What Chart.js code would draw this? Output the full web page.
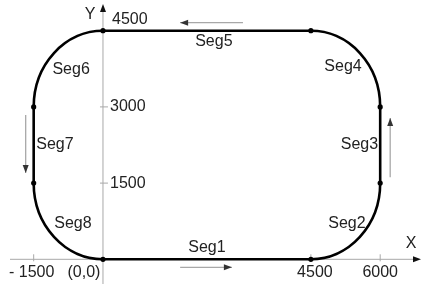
<!DOCTYPE html>
<html>
<head>
<meta charset="UTF-8">
<title>Path segments</title>
<script src="https://cdn.jsdelivr.net/npm/chart.js"></script>
<style>
  body { margin: 0; background: #fff; }
  #wrap { width: 422px; height: 284px; }
</style>
</head>
<body>
<div id="wrap"><canvas id="c"></canvas></div>
<script>
// junction points of the path, Seg1 starts at the origin
const nodeX = [0, 4500, 6000, 6000, 4500, 0, -1500, -1500];
const nodeY = [0, 0, 1500, 3000, 4500, 4500, 3000, 1500];
// straight segments (Seg1, Seg3, Seg5, Seg7) as index pairs into the nodes
const lineSegs = [[0, 1], [2, 3], [4, 5], [6, 7]];
// arc segments (Seg2, Seg4, Seg6, Seg8): centre, radius, quadrant in degrees
const arcCX = [4500, 4500, 0, 0];
const arcCY = [1500, 3000, 3000, 1500];
const arcR = 1500;
const arcFrom = [0, -90, 180, 90];
const arcTo = [90, 0, 270, 180];
// segment names and where they sit
const segNames = ['Seg1', 'Seg2', 'Seg3', 'Seg4', 'Seg5', 'Seg6', 'Seg7', 'Seg8'];
const segLabelX = [2250, 5280, 5550, 5195, 2400, -690, -1040, -650];
const segLabelY = [240, 695, 2250, 3785, 4277, 3726, 2250, 695];
// travel direction arrows
const dirFromX = [1670, 6000, 3030, -1500];
const dirFromY = [0, 1615, 4500, 2840];
const dirToX = [2790, 6000, 1670, -1500];
const dirToY = [0, 2780, 4500, 1700];
// axis ticks
const xTicks = [-1500, 0, 4500, 6000];
const xTickLabels = ['- 1500', '(0,0)', '4500', '6000'];
const yTicks = [1500, 3000, 4500];
const yTickLabels = ['1500', '3000', '4500'];

const FONT = '16px "Liberation Sans", Arial, sans-serif';

function head(ctx, x1, y1, x2, y2, len, half, color) {
  const a = Math.atan2(y2 - y1, x2 - x1);
  ctx.fillStyle = color;
  ctx.beginPath();
  ctx.moveTo(x2, y2);
  ctx.lineTo(x2 - len * Math.cos(a) + half * Math.sin(a), y2 - len * Math.sin(a) - half * Math.cos(a));
  ctx.lineTo(x2 - len * Math.cos(a) - half * Math.sin(a), y2 - len * Math.sin(a) + half * Math.cos(a));
  ctx.closePath();
  ctx.fill();
}

const pathPlugin = {
  id: 'pathPlugin',
  beforeDatasetsDraw(chart) {
    const ctx = chart.ctx, xs = chart.scales.x, ys = chart.scales.y;
    const ox = xs.getPixelForValue(0), oy = ys.getPixelForValue(0);
    ctx.save();
    // axes
    ctx.strokeStyle = '#a8a8a8';
    ctx.lineWidth = 1;
    ctx.beginPath();
    ctx.moveTo(10, oy); ctx.lineTo(416, oy);
    ctx.moveTo(ox, 284); ctx.lineTo(ox, 10);
    ctx.stroke();
    head(ctx, 410, oy, 421, oy, 8, 3, '#111');
    head(ctx, ox, 14, ox, 4, 8, 3, '#111');
    // tick marks
    ctx.beginPath();
    xTicks.forEach(v => {
      if (v === 0) return;
      const p = xs.getPixelForValue(v);
      ctx.moveTo(p, oy - 5); ctx.lineTo(p, oy + 2);
    });
    yTicks.forEach(v => {
      const p = ys.getPixelForValue(v);
      ctx.moveTo(ox - 3, p); ctx.lineTo(ox + 5, p);
    });
    ctx.stroke();
    // direction arrows
    const offs = [[0, 8], [10, 0], [0, -8], [-8, 0]];
    dirFromX.forEach((_, i) => {
      const x1 = xs.getPixelForValue(dirFromX[i]) + offs[i][0];
      const y1 = ys.getPixelForValue(dirFromY[i]) + offs[i][1];
      const x2 = xs.getPixelForValue(dirToX[i]) + offs[i][0];
      const y2 = ys.getPixelForValue(dirToY[i]) + offs[i][1];
      ctx.strokeStyle = '#a8a8a8';
      ctx.lineWidth = 1.3;
      ctx.beginPath(); ctx.moveTo(x1, y1); ctx.lineTo(x2, y2); ctx.stroke();
      head(ctx, x1, y1, x2, y2, 8, 3, '#333');
    });
    // arcs
    ctx.strokeStyle = '#000';
    ctx.lineWidth = 2.6;
    const rx = xs.getPixelForValue(arcR) - ox, ry = oy - ys.getPixelForValue(arcR);
    arcCX.forEach((cx, i) => {
      ctx.beginPath();
      ctx.ellipse(xs.getPixelForValue(cx), ys.getPixelForValue(arcCY[i]), rx, ry, 0,
        arcFrom[i] * Math.PI / 180, arcTo[i] * Math.PI / 180);
      ctx.stroke();
    });
    ctx.restore();
  },
  afterDatasetsDraw(chart) {
    const ctx = chart.ctx, xs = chart.scales.x, ys = chart.scales.y;
    const ox = xs.getPixelForValue(0), oy = ys.getPixelForValue(0);
    ctx.save();
    ctx.font = FONT;
    ctx.fillStyle = '#222';
    ctx.textAlign = 'center';
    ctx.textBaseline = 'middle';
    segNames.forEach((s, i) => {
      ctx.fillText(s, xs.getPixelForValue(segLabelX[i]), ys.getPixelForValue(segLabelY[i]));
    });
    const shift = [-2, -19, 4, 0];
    xTicks.forEach((v, i) => {
      ctx.fillText(xTickLabels[i], xs.getPixelForValue(v) + shift[i], oy + 13);
    });
    ctx.textAlign = 'left';
    yTicks.forEach((v, i) => {
      const top = v === 4500;
      ctx.fillText(yTickLabels[i], ox + (top ? 9 : 7), ys.getPixelForValue(v) - (top ? 11 : 0));
    });
    ctx.textAlign = 'center';
    ctx.fillText('X', 411, oy - 16);
    ctx.fillText('Y', ox - 13, 15);
    ctx.restore();
  }
};

const datasets = lineSegs.map(([a, b]) => ({
  data: [{ x: nodeX[a], y: nodeY[a] }, { x: nodeX[b], y: nodeY[b] }],
  showLine: true,
  borderColor: '#000',
  borderWidth: 2.6,
  pointRadius: 0,
  tension: 0
}));
datasets.push({
  data: nodeX.map((x, i) => ({ x: x, y: nodeY[i] })),
  showLine: false,
  pointRadius: 2.6,
  pointBackgroundColor: '#000',
  pointBorderWidth: 0
});

new Chart(document.getElementById('c'), {
  type: 'scatter',
  data: { datasets: datasets },
  options: {
    responsive: true,
    maintainAspectRatio: false,
    animation: false,
    layout: { padding: 0, autoPadding: false },
    plugins: { legend: { display: false }, tooltip: { enabled: false } },
    scales: {
      x: { type: 'linear', display: false, min: -2229, max: 6905 },
      y: { type: 'linear', display: false, min: -486, max: 5104 }
    }
  },
  plugins: [pathPlugin]
});
</script>
</body>
</html>
